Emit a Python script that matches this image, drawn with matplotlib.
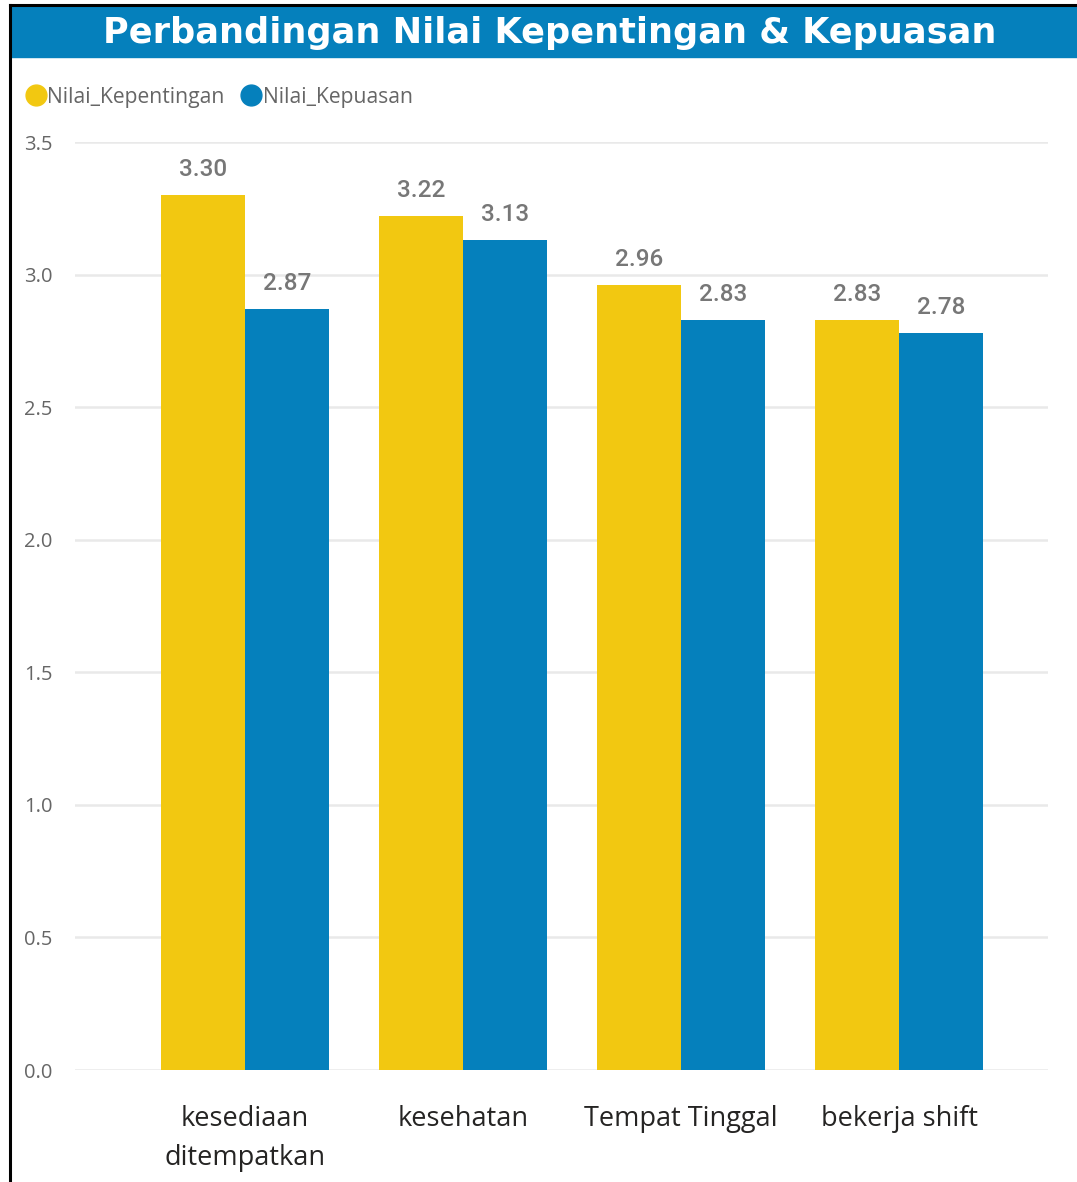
import matplotlib
matplotlib.use("Agg")
import matplotlib.pyplot as plt
from matplotlib.patches import Rectangle
from matplotlib.lines import Line2D
import numpy as np

categories = ["kesediaan\nditempatkan", "kesehatan", "Tempat Tinggal", "bekerja shift"]
nilai_kepentingan = [3.30, 3.22, 2.96, 2.83]
nilai_kepuasan = [2.87, 3.13, 2.83, 2.78]
series_names = ["Nilai_Kepentingan", "Nilai_Kepuasan"]
yticks = [0.0, 0.5, 1.0, 1.5, 2.0, 2.5, 3.0, 3.5]
title = "Perbandingan Nilai Kepentingan & Kepuasan"

YELLOW = "#F2C811"
BLUE = "#0580BC"
GRAY = "#666666"
FONT = ["Open Sans", "DejaVu Sans"]

W, H = 1077, 1182
fig = plt.figure(figsize=(W / 100, H / 100), dpi=100)

# axes placement
left, right = 75 / W, 1048 / W
bottom, top = (H - 1070) / H, (H - 142) / H
ax = fig.add_axes([left, bottom, right - left, top - bottom])

x = np.arange(len(categories))
bw = 0.385
b1 = ax.bar(x - bw / 2, nilai_kepentingan, bw, color=YELLOW, zorder=3)
b2 = ax.bar(x + bw / 2, nilai_kepuasan, bw, color=BLUE, zorder=3)

for bars, vals in ((b1, nilai_kepentingan), (b2, nilai_kepuasan)):
    for r, v in zip(bars, vals):
        ax.annotate(f"{v:.2f}", (r.get_x() + r.get_width() / 2, v),
                    xytext=(0, 10), textcoords="offset points",
                    ha="center", va="bottom", fontsize=17.5, color="#777777",
                    family=["Roboto", "DejaVu Sans"], fontweight="medium",
                    clip_on=False)

ax.set_xlim(-0.78, 3.683)
ax.set_ylim(0, 3.5)
ax.set_yticks(yticks)
ax.set_yticklabels([f"{t:.1f}" for t in yticks], family=FONT, fontsize=14.5, color=GRAY)
ax.set_xticks(x)
ax.set_xticklabels(categories, family=FONT, fontsize=19.5, color="#252423", linespacing=1.55)
ax.tick_params(axis="both", length=0)
ax.tick_params(axis="y", pad=16)
ax.tick_params(axis="x", pad=25)
for s in ax.spines.values():
    s.set_visible(False)
ax.grid(axis="y", color="#E9E9E9", linewidth=1.8, zorder=0)
ax.set_axisbelow(True)

# title bar
fig.patches.append(Rectangle((11 / W, (H - 57) / H), 1 - 11 / W, 51 / H,
                             transform=fig.transFigure, color=BLUE, zorder=0))
fig.text(550 / W, (H - 33) / H, title, ha="center", va="center",
         color="white", fontsize=25.3, fontweight="bold",
         family=["DejaVu Sans"])

# borders
fig.add_artist(Line2D([10 / W, 1], [(H - 5) / H] * 2, color="black", lw=2.2,
                      transform=fig.transFigure))
fig.add_artist(Line2D([10 / W] * 2, [0, (H - 5) / H], color="black", lw=2.2,
                      transform=fig.transFigure))

# legend
handles = [Line2D([], [], marker="o", ls="", markersize=15, color=YELLOW),
           Line2D([], [], marker="o", ls="", markersize=15, color=BLUE)]
leg = fig.legend(handles, series_names, loc="center left",
                 bbox_to_anchor=(2 / W, (H - 97) / H), ncol=2, frameon=False,
                 handletextpad=-0.15, columnspacing=0.55, handlelength=1.4,
                 prop={"family": FONT, "size": 15.2})
for t in leg.get_texts():
    t.set_color(GRAY)

fig.savefig("out.png", dpi=100)
